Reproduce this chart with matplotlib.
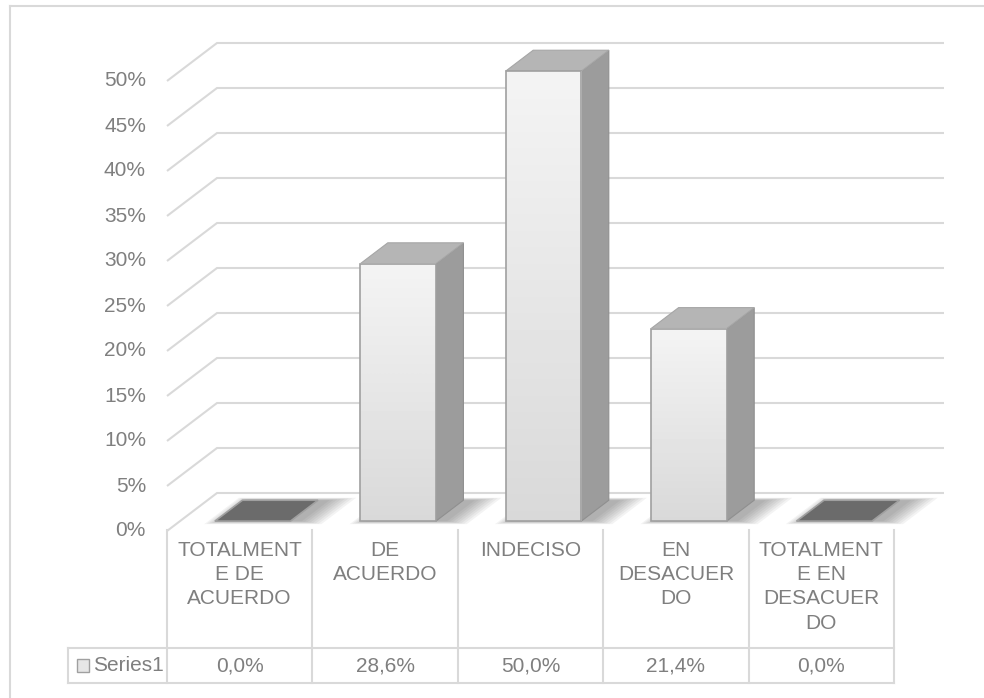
import numpy as np
import matplotlib.pyplot as plt
from matplotlib.patches import Polygon, Rectangle

categories = ["TOTALMENT\nE DE\nACUERDO", "DE\nACUERDO", "INDECISO",
              "EN\nDESACUER\nDO", "TOTALMENT\nE EN\nDESACUER\nDO"]
values = [0.0, 28.6, 50.0, 21.4, 0.0]
series_name = "Series1"
yticks = list(range(0, 55, 5))

plt.rcParams['font.family'] = ['Liberation Sans', 'DejaVu Sans']
FS = 15
TXT = '#7f7f7f'
GRID = '#d9d9d9'

# oblique projection: one unit of depth moves this far in x (categories) and v (%)
DX, DV = 50 / 145.4, 38 / 9.0
D_FRONT, D_BACK = 0.26, 0.81
HALF_W = 0.26


def proj(x, v, d):
    return (x + d * DX, v + d * DV)


fig = plt.figure(figsize=(9.84, 6.98), dpi=100)
ax = fig.add_axes([0, 0, 1, 1])
XLIM = (-167 / 145.4 - 0.5, (984 - 167) / 145.4 - 0.5)
YLIM = ((531 - 698) / 9.0, 531 / 9.0)
ax.axis('off')

# outer frame (left and top edges)
fig.add_artist(plt.Line2D([9.5 / 984, 9.5 / 984], [0, 1 - 6 / 698], color=GRID, lw=1.5))
fig.add_artist(plt.Line2D([9.5 / 984, 1], [1 - 6 / 698, 1 - 6 / 698], color=GRID, lw=1.5))

n = len(categories)

# gridlines on the side and back walls
for t in yticks:
    pts = [proj(-0.5, t, 0), proj(-0.5, t, 1), proj(n - 0.5, t, 1)]
    xs, ys = zip(*pts)
    ax.plot(xs, ys, color=GRID, lw=1.5, zorder=1, solid_capstyle='butt')
    lx, ly = proj(-0.5, t, 0)
    ax.text(lx - 21 / 145.4, ly, f"{t}%", ha='right', va='center',
            fontsize=FS, color=TXT)

# soft shadows on the floor
for i, val in enumerate(values):
    for g in np.linspace(0.16, 0.0, 8):
        quad = [proj(i - HALF_W - g * 0.6 + 0.05, 0, D_FRONT - g * 0.5),
                proj(i + HALF_W + g + 0.08, 0, D_FRONT - g * 0.5),
                proj(i + HALF_W + g + 0.08, 0, D_BACK + g * 0.4),
                proj(i - HALF_W - g * 0.6 + 0.05, 0, D_BACK + g * 0.4)]
        ax.add_patch(Polygon(quad, closed=True, facecolor='#3a3a3a',
                             edgecolor='none', alpha=0.06, zorder=2))

# 3d columns
for i, val in enumerate(values):
    x0, x1 = i - HALF_W, i + HALF_W
    if val == 0:
        top = [proj(x0, 0, D_FRONT), proj(x1, 0, D_FRONT),
               proj(x1, 0, D_BACK), proj(x0, 0, D_BACK)]
        ax.add_patch(Polygon(top, closed=True, facecolor='#6b6b6b',
                             edgecolor='#a0a0a0', lw=1.2, zorder=4))
        continue
    side = [proj(x1, 0, D_FRONT), proj(x1, 0, D_BACK),
            proj(x1, val, D_BACK), proj(x1, val, D_FRONT)]
    ax.add_patch(Polygon(side, closed=True, facecolor='#9c9c9c',
                         edgecolor='#8f8f8f', lw=0.8, zorder=4))
    top = [proj(x0, val, D_FRONT), proj(x1, val, D_FRONT),
           proj(x1, val, D_BACK), proj(x0, val, D_BACK)]
    ax.add_patch(Polygon(top, closed=True, facecolor='#b5b5b5',
                         edgecolor='#a6a6a6', lw=0.8, zorder=4))
    fx0, fy0 = proj(x0, 0, D_FRONT)
    fx1, fy1 = proj(x1, val, D_FRONT)
    grad = np.linspace(0.85, 0.955, 64).reshape(-1, 1)
    ax.imshow(grad, cmap='gray', vmin=0, vmax=1, aspect='auto', origin='lower',
              extent=(fx0, fx1, fy0, fy1), zorder=5, interpolation='bilinear')
    ax.add_patch(Rectangle((fx0, fy0), fx1 - fx0, fy1 - fy0, facecolor='none',
                           edgecolor='#a0a0a0', lw=1.2, zorder=6))

# data table under the plot
v_head_top = (531 - 530) / 9.0
v_row_top = (531 - 648) / 9.0
v_row_bot = (531 - 683) / 9.0
x_key = (68 - 167) / 145.4 - 0.5
for k in range(n + 1):
    ax.plot([k - 0.5, k - 0.5], [v_head_top, v_row_bot], color=GRID, lw=1.5, zorder=1)
ax.plot([x_key, n - 0.5], [v_row_top, v_row_top], color=GRID, lw=1.5, zorder=1)
ax.plot([x_key, n - 0.5], [v_row_bot, v_row_bot], color=GRID, lw=1.5, zorder=1)
ax.plot([x_key, x_key], [v_row_top, v_row_bot], color=GRID, lw=1.5, zorder=1)

for i, (cat, val) in enumerate(zip(categories, values)):
    ax.text(i, (531 - 541) / 9.0, cat, ha='center', va='top', fontsize=FS,
            color=TXT, linespacing=1.35)
    ax.text(i, (v_row_top + v_row_bot) / 2, f"{val:.1f}%".replace('.', ','),
            ha='center', va='center', fontsize=FS, color=TXT)

kx = (77 - 167) / 145.4 - 0.5
ax.add_patch(Rectangle((kx, (531 - 672) / 9.0), 12 / 145.4, 13 / 9.0,
                       facecolor='#e6e6e6', edgecolor='#a0a0a0', lw=1, zorder=3))
ax.text((93 - 167) / 145.4 - 0.5, (v_row_top + v_row_bot) / 2, series_name,
        ha='left', va='center', fontsize=FS, color=TXT)

ax.set_xlim(*XLIM)
ax.set_ylim(*YLIM)

fig.savefig('out.png', dpi=100)
